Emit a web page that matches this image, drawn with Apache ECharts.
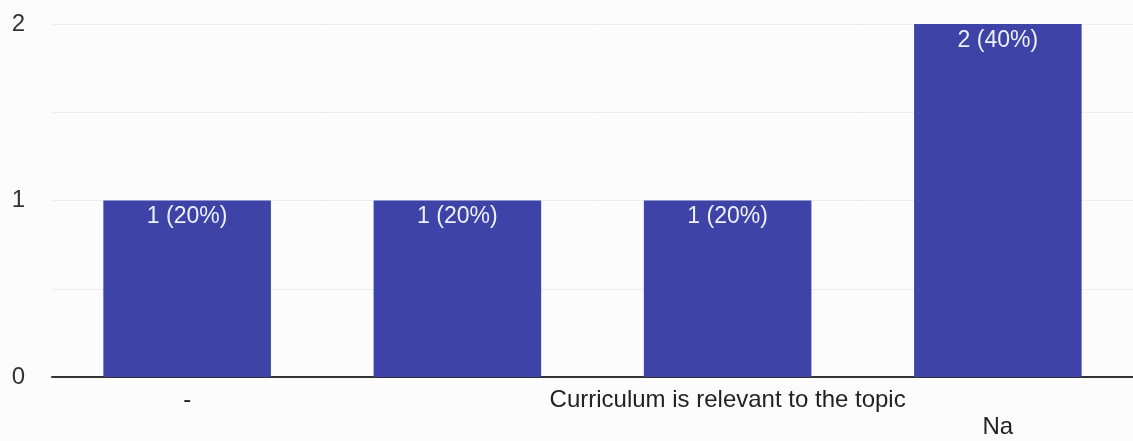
<!DOCTYPE html>
<html>
<head>
<meta charset="utf-8">
<script src="https://cdn.jsdelivr.net/npm/echarts@6/dist/echarts.min.js"></script>
<style>
  html, body { margin: 0; padding: 0; background: #fcfcfd; }
  #chart { width: 1133px; height: 441px; }
</style>
</head>
<body>
<div id="chart"></div>
<script>
// categories as shown on the x axis (2nd label is not visible in the picture)
const categories = ['-', '', 'Curriculum is relevant to the topic', 'Na']
const counts = [1, 1, 1, 2]
const percents = [20, 20, 20, 40]
const yTicks = [0, 1, 2]

const chart = echarts.init(document.getElementById('chart'))
chart.setOption({
  backgroundColor: '#fcfcfd',
  animation: false,
  grid: { left: 52, right: 0, top: 24, bottom: 54 },
  xAxis: {
    type: 'category',
    data: categories,
    axisLine: { lineStyle: { color: '#333', width: 2 } },
    axisTick: { show: false },
    axisLabel: {
      interval: 0,
      margin: 10,
      color: '#222',
      fontSize: 24,
      fontFamily: 'Liberation Sans, Arial, sans-serif',
      lineHeight: 27,
      // staggered rows like the source chart
      formatter: (v, i) => (i % 2 ? '\n' + v : v),
    },
  },
  yAxis: {
    type: 'value',
    min: 0,
    max: 2,
    interval: 0.5,
    axisLine: { show: false },
    axisTick: { show: false },
    axisLabel: {
      margin: 27,
      color: '#333',
      fontSize: 24,
      fontFamily: 'Liberation Sans, Arial, sans-serif',
      formatter: (v) => (yTicks.includes(v) ? String(v) : ''),
    },
    splitLine: { lineStyle: { color: '#ececf0', width: 1 } },
  },
  series: [
    {
      type: 'bar',
      data: counts,
      barWidth: '62%',
      itemStyle: { color: '#3e43a7' },
      label: {
        show: true,
        position: 'insideTop',
        distance: 5,
        color: '#eef0fa',
        fontSize: 23,
        fontFamily: 'Liberation Sans, Arial, sans-serif',
        formatter: (p) => `${counts[p.dataIndex]} (${percents[p.dataIndex]}%)`,
      },
    },
  ],
})
</script>
</body>
</html>
